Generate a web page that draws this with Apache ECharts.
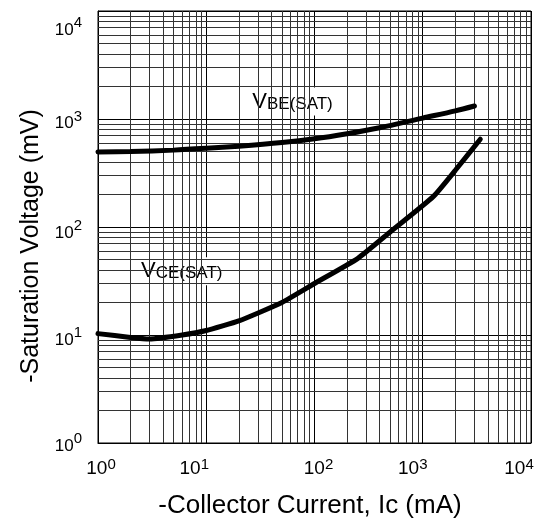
<!DOCTYPE html>
<html><head><meta charset="utf-8">
<script src="https://cdn.jsdelivr.net/npm/echarts@6/dist/echarts.min.js"></script>
<style>html,body{margin:0;padding:0;background:#fff}#c{width:542px;height:527px}</style>
</head><body><div id="c"></div>
<script>
// ---- data ----
const decades = [1, 10, 100, 1000, 10000];
const minorSteps = [2, 3, 4, 5, 6, 7, 8, 9];
const vbeCurrent = [1, 2, 5, 10, 20, 50, 100, 200, 400, 1000, 2000, 3000];
const vbeVoltage = [495, 500, 515, 535, 560, 605, 655, 730, 830, 1020, 1190, 1320];
const vceCurrent = [1, 2, 3, 6, 10, 20, 50, 100, 250, 500, 1250, 2000, 3400];
const vceVoltage = [10.3, 9.5, 9.2, 10, 11, 13.5, 20, 30, 51, 90, 191, 335, 650];
const vbeLabelAt = [64, 1450];
const vceLabelAt = [6.0, 39];

// ---- build ----
const FONT = "'Liberation Sans', Arial, Helvetica, sans-serif";
const minorValues = [];
decades.slice(0, -1).forEach(d => minorSteps.forEach(m => minorValues.push(d * m)));
const zip = (a, b) => a.map((v, i) => [v, b[i]]);

// per-label nudges (style only)
const xShift = {0: 3, 1: -12, 2: 4, 3: -10, 4: -12};
const yDown = {0: 0, 1: 10, 2: 12, 3: 9, 4: 38};
const xRich = {}, yRich = {};
for (let e = 0; e <= 4; e++) {
  const s = xShift[e];
  xRich['b' + e] = {fontSize: 19, fontFamily: FONT, color: '#000', verticalAlign: 'bottom',
    padding: [0, 0, 0, s > 0 ? 2 * s : 0]};
  xRich['s' + e] = {fontSize: 15, fontFamily: FONT, color: '#000', verticalAlign: 'bottom',
    padding: [0, s < 0 ? -2 * s : 0, 6, 0]};
  yRich['b' + e] = {fontSize: 17, fontFamily: FONT, color: '#000', verticalAlign: 'bottom',
    padding: [yDown[e], 0, 0, 0]};
  yRich['s' + e] = {fontSize: 15, fontFamily: FONT, color: '#000', verticalAlign: 'bottom',
    padding: [0, 0, 8, 0]};
}
const expLabel = v => {
  const e = Math.round(Math.log10(v));
  return '{b' + e + '|10}{s' + e + '|' + e + '}';
};
const tagRich = {
  v: {fontSize: 22, fontFamily: FONT, color: '#000', verticalAlign: 'bottom', textBorderWidth: 0},
  s: {fontSize: 17, fontFamily: FONT, color: '#000', verticalAlign: 'bottom', textBorderWidth: 0}
};
const tagSeries = (pt, text, pad) => ({
  type: 'scatter', z: 4, silent: true, symbolSize: 0,
  itemStyle: {color: '#000', opacity: 1},
  emphasis: {disabled: true},
  data: [pt],
  label: {show: true, position: 'inside', color: '#000', opacity: 1, textBorderWidth: 0,
    textBorderColor: 'transparent', backgroundColor: '#fff', padding: pad,
    formatter: text, rich: tagRich}
});

const chart = echarts.init(document.getElementById('c'), null, {renderer: 'canvas'});
chart.setOption({
  animation: false,
  backgroundColor: '#fff',
  grid: {left: 98, top: 11, right: 11, bottom: 84, show: true, borderColor: '#000', borderWidth: 1},
  xAxis: {
    type: 'log', logBase: 10, min: 1, max: 10000,
    name: '-Collector Current, Ic (mA)', nameLocation: 'middle', nameGap: 50,
    nameTextStyle: {fontSize: 26, fontFamily: FONT, color: '#000', padding: [0, 9, 0, 0]},
    axisLine: {show: true, lineStyle: {color: '#000', width: 1}},
    axisTick: {show: false},
    axisLabel: {margin: 14, formatter: expLabel, rich: xRich},
    splitLine: {show: true, lineStyle: {color: '#000', width: 1}},
    minorTick: {show: false}, minorSplitLine: {show: false}
  },
  yAxis: {
    type: 'log', logBase: 10, min: 1, max: 10000,
    name: '-Saturation Voltage (mV)', nameLocation: 'middle', nameGap: 49, nameRotate: 90,
    nameTextStyle: {fontSize: 25, fontFamily: FONT, color: '#000', padding: [0, 38, 0, 0]},
    axisLine: {show: true, lineStyle: {color: '#000', width: 1}},
    axisTick: {show: false},
    axisLabel: {margin: 16, formatter: expLabel, rich: yRich},
    splitLine: {show: true, lineStyle: {color: '#000', width: 1}},
    minorTick: {show: false}, minorSplitLine: {show: false}
  },
  series: [
    {
      type: 'line', data: [], silent: true, z: 1,
      markLine: {
        silent: true, symbol: 'none', animation: false,
        label: {show: false},
        lineStyle: {color: '#333', width: 1, type: 'solid'},
        data: minorValues.map(v => ({xAxis: v})).concat(minorValues.map(v => ({yAxis: v})))
      }
    },
    tagSeries(vbeLabelAt, '{v|V}{s|BE(SAT)}', [3, 14, 3, 12]),
    tagSeries(vceLabelAt, '{v|V}{s|CE(SAT)}', [3, 4, 3, 3]),
    {
      name: 'VBE(SAT)', type: 'line', z: 5, data: zip(vbeCurrent, vbeVoltage),
      showSymbol: false, smooth: 0.3, lineStyle: {color: '#000', width: 5, cap: 'round'}
    },
    {
      name: 'VCE(SAT)', type: 'line', z: 5, data: zip(vceCurrent, vceVoltage),
      showSymbol: false, smooth: 0.15, lineStyle: {color: '#000', width: 5, cap: 'round'}
    }
  ]
});
</script>
</body></html>
